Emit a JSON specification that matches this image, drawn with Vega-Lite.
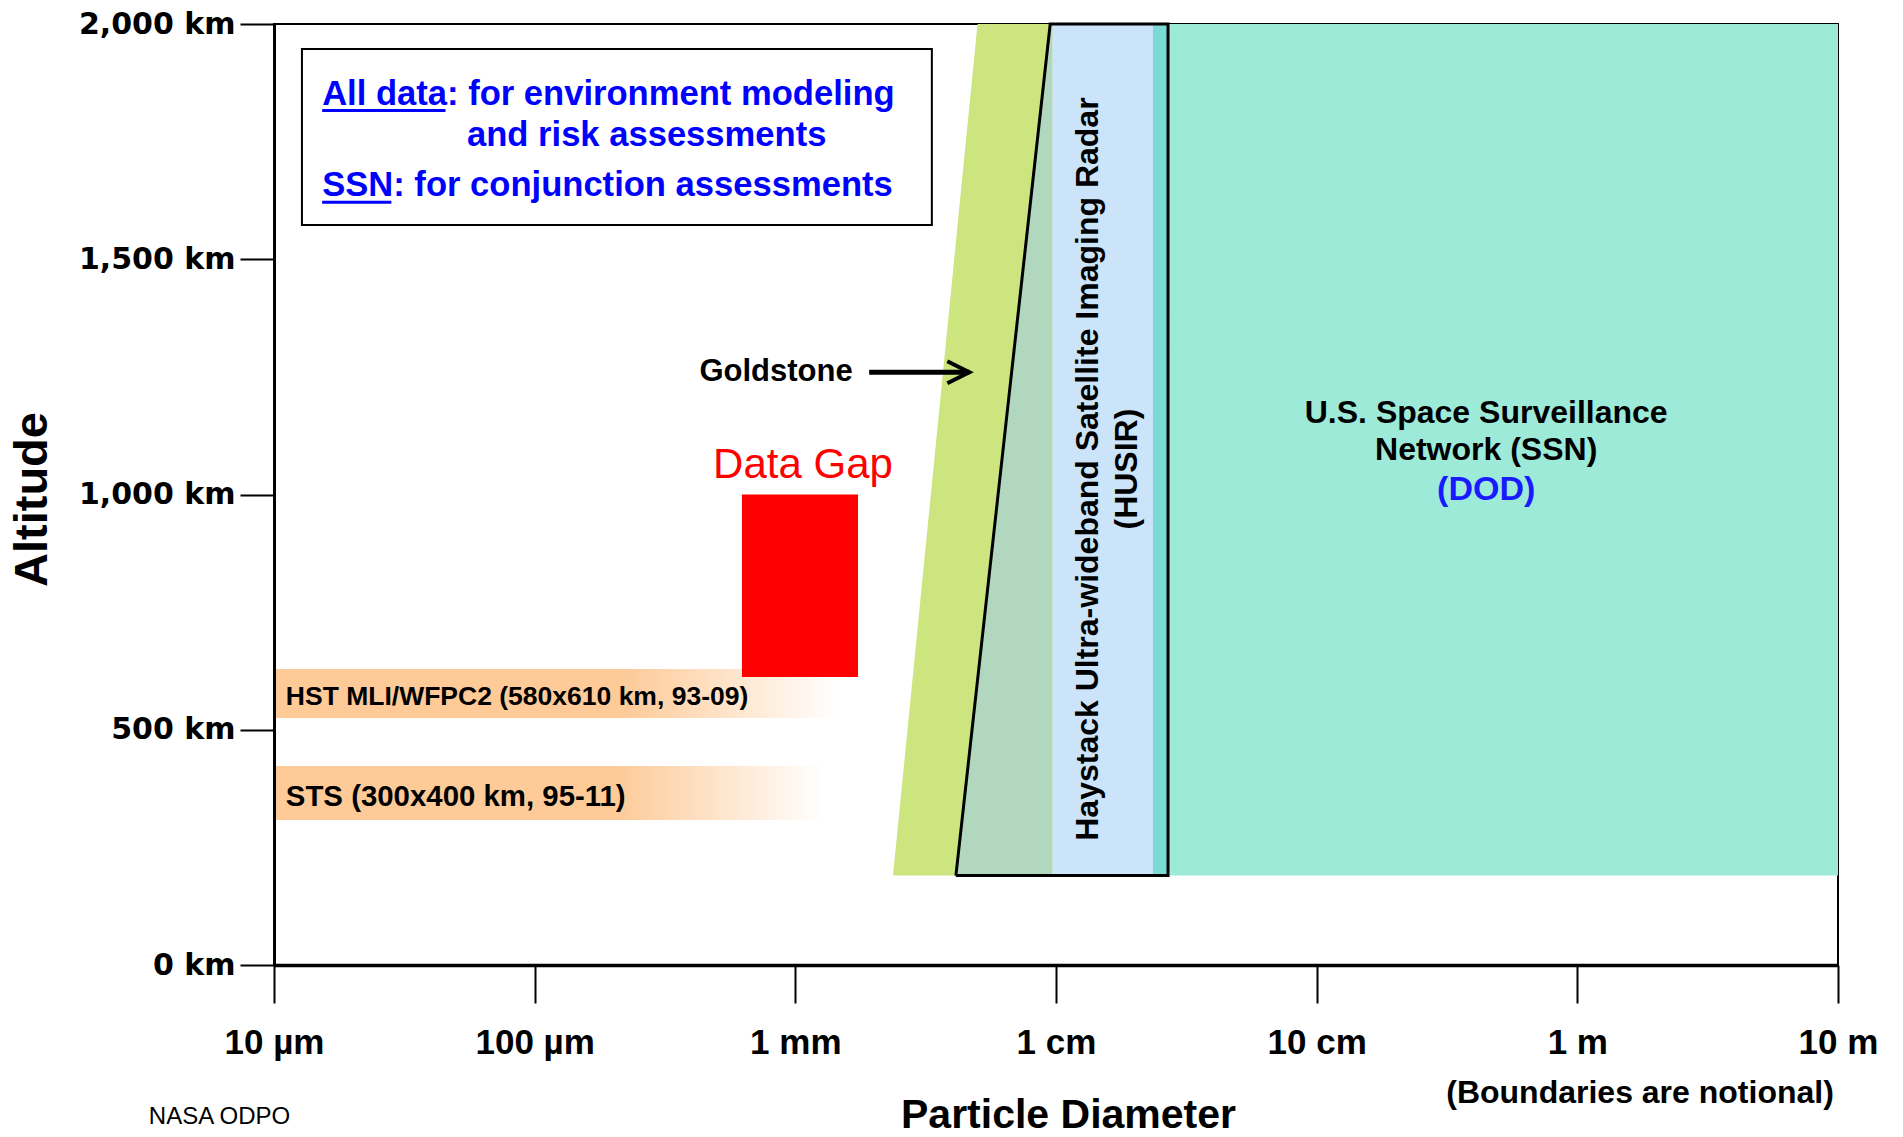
{
  "$schema": "https://vega.github.io/schema/vega-lite/v6.json",
  "width": 1564,
  "height": 941,
  "autosize": "none",
  "padding": {"left": 274, "top": 24, "right": 65, "bottom": 172},
  "background": "white",
  "config": {"view": {"stroke": "black", "strokeWidth": 2}, "font": "Liberation Sans"},
  "datasets": {
    "goldstone": [
      {"region": "Goldstone", "alt": 190, "xl": 0.00237, "xr": 0.0097},
      {"region": "Goldstone", "alt": 2000, "xl": 0.0050, "xr": 0.0097}
    ],
    "overlap": [
      {"region": "Goldstone/HUSIR", "alt": 190, "xl": 0.00413, "xr": 0.0097},
      {"region": "Goldstone/HUSIR", "alt": 2000, "xl": 0.0095, "xr": 0.0097}
    ],
    "regions": [
      {"region": "HUSIR", "x0": 0.0097, "x1": 0.02355, "a0": 190, "a1": 2000},
      {"region": "HUSIR/SSN", "x0": 0.02355, "x1": 0.0269, "a0": 190, "a1": 2000},
      {"region": "SSN", "x0": 0.0269, "x1": 10, "a0": 190, "a1": 2000}
    ],
    "gap": [{"region": "Data Gap", "x0": 0.000624, "x1": 0.00174, "a0": 612, "a1": 1000}],
    "husirOutline": [
      {"o": 0, "x": 0.00413, "alt": 190},
      {"o": 1, "x": 0.0095, "alt": 2000},
      {"o": 2, "x": 0.0269, "alt": 2000},
      {"o": 3, "x": 0.0269, "alt": 190},
      {"o": 4, "x": 0.00413, "alt": 190}
    ],
    "bands": [
      {"label": "HST MLI/WFPC2 (580x610 km, 93-09)", "x0": 0.00001, "x1": 0.00145, "a0": 525, "a1": 629, "tx": 0.0000111, "ta": 570},
      {"label": "STS (300x400 km, 95-11)", "x0": 0.00001, "x1": 0.00129, "a0": 308, "a1": 423, "tx": 0.0000111, "ta": 357}
    ],
    "legendBox": [{"x0": 0.0000128, "x1": 0.00334, "a0": 1573, "a1": 1947}],
    "legendText": [
      {"t": "All data: for environment modeling", "x": 0.0000153, "alt": 1850},
      {"t": "and risk assessments", "x": 0.000055, "alt": 1761},
      {"t": "SSN: for conjunction assessments", "x": 0.0000153, "alt": 1655}
    ],
    "underlines": [
      {"x": 0.0000153, "x2": 0.0000455, "alt": 1816},
      {"x": 0.0000153, "x2": 0.0000282, "alt": 1621}
    ],
    "arrow": [{"x": 0.00192, "x2": 0.00465, "alt": 1260}],
    "goldLabel": [{"t": "Goldstone", "x": 0.00166, "alt": 1260}],
    "gapLabel": [{"t": "Data Gap", "x": 0.00107, "alt": 1063}],
    "husirLabel": [
      {"t": "Haystack Ultra-wideband Satellite Imaging Radar", "x": 0.01327, "alt": 1054},
      {"t": "(HUSIR)", "x": 0.01872, "alt": 1054}
    ],
    "ssnLabel": [
      {"t": "U.S. Space Surveillance", "x": 0.447, "alt": 1173},
      {"t": "Network (SSN)", "x": 0.447, "alt": 1095}
    ],
    "dodLabel": [{"t": "(DOD)", "x": 0.447, "alt": 1010}],
    "noteLabel": [{"t": "(Boundaries are notional)", "x": 1.74, "alt": -272}],
    "creditLabel": [{"t": "NASA ODPO", "x": 0.00000331, "alt": -323}]
  },
  "layer": [
    {
      "data": {"name": "goldstone"},
      "mark": {"type": "area", "orient": "horizontal", "color": "#cde57f", "opacity": 1},
      "encoding": {
        "y": {"field": "alt", "type": "quantitative", "scale": {"domain": [0, 2000], "nice": false},
          "axis": {"orient": "left", "values": [0, 500, 1000, 1500, 2000], "labelExpr": "format(datum.value, ',') + ' km'",
            "grid": false, "zindex": 1, "domainColor": "black", "domainWidth": 3, "tickColor": "black", "tickSize": 34, "tickWidth": 2,
            "labelFont": "DejaVu Sans", "labelFontWeight": "bold", "labelFontSize": 30, "labelColor": "black", "labelPadding": 5,
            "title": "Altitude", "titleFont": "Liberation Sans", "titleFontWeight": "bold", "titleFontSize": 47, "titleColor": "black",
            "titleAngle": 270, "titleX": -242, "titleY": 475, "titleAlign": "center", "titleBaseline": "middle"}},
        "x": {"field": "xl", "type": "quantitative", "scale": {"type": "log", "domain": [0.00001, 10], "nice": false},
          "axis": {"orient": "bottom", "values": [0.00001, 0.0001, 0.001, 0.01, 0.1, 1, 10],
            "labelExpr": "['10 µm','100 µm','1 mm','1 cm','10 cm','1 m','10 m'][round(log(datum.value)/LN10)+5]",
            "grid": false, "zindex": 1, "domainColor": "black", "domainWidth": 3.5, "tickColor": "black", "tickSize": 38, "tickWidth": 2,
            "labelFont": "Liberation Sans", "labelFontWeight": "bold", "labelFontSize": 35, "labelColor": "black", "labelPadding": 22,
            "labelFlush": false, "labelOverlap": false, "labelBound": false,
            "title": "Particle Diameter", "titleFont": "Liberation Sans", "titleFontWeight": "bold", "titleFontSize": 41, "titleColor": "black",
            "titleX": 794, "titleY": 150, "titleAlign": "center", "titleBaseline": "middle"}},
        "x2": {"field": "xr"}
      }
    },
    {
      "data": {"name": "overlap"},
      "mark": {"type": "area", "orient": "horizontal", "color": "#b2d7bf", "opacity": 1},
      "encoding": {
        "y": {"field": "alt", "type": "quantitative"},
        "x": {"field": "xl", "type": "quantitative", "scale": {"type": "log"}},
        "x2": {"field": "xr"}
      }
    },
    {
      "data": {"name": "regions"},
      "mark": {"type": "rect"},
      "encoding": {
        "x": {"field": "x0", "type": "quantitative", "scale": {"type": "log"}},
        "x2": {"field": "x1"},
        "y": {"field": "a0", "type": "quantitative"},
        "y2": {"field": "a1"},
        "color": {"field": "region", "type": "nominal", "legend": null,
          "scale": {"domain": ["HUSIR", "HUSIR/SSN", "SSN"], "range": ["#cce4fa", "#7bdad5", "#9deAd8"]}}
      }
    },
    {
      "data": {"name": "husirOutline"},
      "mark": {"type": "line", "color": "black", "strokeWidth": 3, "strokeJoin": "miter"},
      "encoding": {
        "x": {"field": "x", "type": "quantitative", "scale": {"type": "log"}},
        "y": {"field": "alt", "type": "quantitative"},
        "order": {"field": "o", "type": "quantitative"}
      }
    },
    {
      "data": {"name": "bands"},
      "mark": {"type": "rect", "fill": {"gradient": "linear", "x1": 0, "y1": 0, "x2": 1, "y2": 0,
        "stops": [{"offset": 0, "color": "#fdca98"}, {"offset": 0.62, "color": "#fdca98"}, {"offset": 1, "color": "#ffffff"}]}},
      "encoding": {
        "x": {"field": "x0", "type": "quantitative", "scale": {"type": "log"}},
        "x2": {"field": "x1"},
        "y": {"field": "a0", "type": "quantitative"},
        "y2": {"field": "a1"}
      }
    },
    {
      "data": {"name": "gap"},
      "mark": {"type": "rect", "color": "#ff0000"},
      "encoding": {
        "x": {"field": "x0", "type": "quantitative", "scale": {"type": "log"}},
        "x2": {"field": "x1"},
        "y": {"field": "a0", "type": "quantitative"},
        "y2": {"field": "a1"}
      }
    },
    {
      "data": {"name": "bands"},
      "transform": [{"filter": "indexof(datum.label, 'HST') === 0"}],
      "mark": {"type": "text", "align": "left", "baseline": "middle", "font": "Liberation Sans", "fontWeight": "bold", "fontSize": 26.5, "color": "black"},
      "encoding": {
        "x": {"field": "tx", "type": "quantitative", "scale": {"type": "log"}},
        "y": {"field": "ta", "type": "quantitative"},
        "text": {"field": "label"}
      }
    },
    {
      "data": {"name": "bands"},
      "transform": [{"filter": "indexof(datum.label, 'STS') === 0"}],
      "mark": {"type": "text", "align": "left", "baseline": "middle", "font": "Liberation Sans", "fontWeight": "bold", "fontSize": 29.4, "color": "black"},
      "encoding": {
        "x": {"field": "tx", "type": "quantitative", "scale": {"type": "log"}},
        "y": {"field": "ta", "type": "quantitative"},
        "text": {"field": "label"}
      }
    },
    {
      "data": {"name": "legendBox"},
      "mark": {"type": "rect", "fill": "white", "stroke": "black", "strokeWidth": 2},
      "encoding": {
        "x": {"field": "x0", "type": "quantitative", "scale": {"type": "log"}},
        "x2": {"field": "x1"},
        "y": {"field": "a0", "type": "quantitative"},
        "y2": {"field": "a1"}
      }
    },
    {
      "data": {"name": "legendText"},
      "mark": {"type": "text", "align": "left", "baseline": "middle", "font": "Liberation Sans", "fontWeight": "bold", "fontSize": 34.6, "color": "#0000ff"},
      "encoding": {
        "x": {"field": "x", "type": "quantitative", "scale": {"type": "log"}},
        "y": {"field": "alt", "type": "quantitative"},
        "text": {"field": "t"}
      }
    },
    {
      "data": {"name": "underlines"},
      "mark": {"type": "rule", "color": "#0000ff", "strokeWidth": 3},
      "encoding": {
        "x": {"field": "x", "type": "quantitative", "scale": {"type": "log"}},
        "x2": {"field": "x2"},
        "y": {"field": "alt", "type": "quantitative"}
      }
    },
    {
      "data": {"name": "arrow"},
      "mark": {"type": "rule", "color": "black", "strokeWidth": 5},
      "encoding": {
        "x": {"field": "x", "type": "quantitative", "scale": {"type": "log"}},
        "x2": {"field": "x2"},
        "y": {"field": "alt", "type": "quantitative"}
      }
    },
    {
      "data": {"name": "arrow"},
      "mark": {"type": "point", "shape": "M-2,-1L0,0L-2,1", "size": 484, "filled": false, "stroke": "black", "strokeWidth": 4, "opacity": 1},
      "encoding": {
        "x": {"field": "x2", "type": "quantitative", "scale": {"type": "log"}},
        "y": {"field": "alt", "type": "quantitative"}
      }
    },
    {
      "data": {"name": "goldLabel"},
      "mark": {"type": "text", "align": "right", "baseline": "middle", "font": "Liberation Sans", "fontWeight": "bold", "fontSize": 31, "color": "black"},
      "encoding": {
        "x": {"field": "x", "type": "quantitative", "scale": {"type": "log"}},
        "y": {"field": "alt", "type": "quantitative"},
        "text": {"field": "t"}
      }
    },
    {
      "data": {"name": "gapLabel"},
      "mark": {"type": "text", "align": "center", "baseline": "middle", "font": "Liberation Sans", "fontSize": 42, "color": "#ff0000"},
      "encoding": {
        "x": {"field": "x", "type": "quantitative", "scale": {"type": "log"}},
        "y": {"field": "alt", "type": "quantitative"},
        "text": {"field": "t"}
      }
    },
    {
      "data": {"name": "husirLabel"},
      "mark": {"type": "text", "align": "center", "baseline": "middle", "angle": 270, "font": "Liberation Sans", "fontWeight": "bold", "fontSize": 32, "color": "black"},
      "encoding": {
        "x": {"field": "x", "type": "quantitative", "scale": {"type": "log"}},
        "y": {"field": "alt", "type": "quantitative"},
        "text": {"field": "t"}
      }
    },
    {
      "data": {"name": "ssnLabel"},
      "mark": {"type": "text", "align": "center", "baseline": "middle", "font": "Liberation Sans", "fontWeight": "bold", "fontSize": 32, "color": "black"},
      "encoding": {
        "x": {"field": "x", "type": "quantitative", "scale": {"type": "log"}},
        "y": {"field": "alt", "type": "quantitative"},
        "text": {"field": "t"}
      }
    },
    {
      "data": {"name": "dodLabel"},
      "mark": {"type": "text", "align": "center", "baseline": "middle", "font": "Liberation Sans", "fontWeight": "bold", "fontSize": 34, "color": "#1a1aff"},
      "encoding": {
        "x": {"field": "x", "type": "quantitative", "scale": {"type": "log"}},
        "y": {"field": "alt", "type": "quantitative"},
        "text": {"field": "t"}
      }
    },
    {
      "data": {"name": "noteLabel"},
      "mark": {"type": "text", "align": "center", "baseline": "middle", "font": "Liberation Sans", "fontWeight": "bold", "fontSize": 32, "color": "black"},
      "encoding": {
        "x": {"field": "x", "type": "quantitative", "scale": {"type": "log"}},
        "y": {"field": "alt", "type": "quantitative"},
        "text": {"field": "t"}
      }
    },
    {
      "data": {"name": "creditLabel"},
      "mark": {"type": "text", "align": "left", "baseline": "middle", "font": "Liberation Sans", "fontSize": 24, "color": "black"},
      "encoding": {
        "x": {"field": "x", "type": "quantitative", "scale": {"type": "log"}},
        "y": {"field": "alt", "type": "quantitative"},
        "text": {"field": "t"}
      }
    }
  ]
}
